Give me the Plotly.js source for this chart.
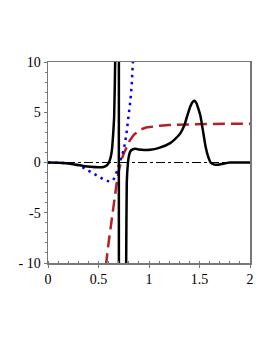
<!DOCTYPE html>
<html><head><meta charset="utf-8">
<script src="https://cdn.plot.ly/plotly-3.0.1.min.js"></script>
<style>html,body{margin:0;padding:0;background:#fff}</style>
</head><body><div id="c" style="width:273px;height:353px"></div>
<script>
// black solid curve
const blackX = [0, 0.1, 0.2, 0.28, 0.35, 0.42, 0.5, 0.55, 0.58, 0.6, 0.62, 0.633, 0.645, 0.655, 0.665, 0.68, 0.7, 0.715, 0.7199,
                0.7201, 0.73, 0.75, 0.765, 0.774, 0.78, 0.79, 0.8, 0.815, 0.83, 0.864, 0.9, 0.95, 1.01, 1.1, 1.21, 1.26, 1.31, 1.35, 1.377, 1.41, 1.435, 1.452, 1.47, 1.49, 1.51, 1.535, 1.56, 1.585, 1.61, 1.64, 1.68, 1.72, 1.8, 1.9, 2];
const blackY = [0, -0.02, -0.1, -0.23, -0.34, -0.43, -0.48, -0.45, -0.3, -0.06, 0.5, 1.26, 2.8, 4.6, 10, 20, 50, 200, 2000,
                -2000, -200, -40, -16, -10, -2, -0.2, 0.6, 1.1, 1.26, 1.36, 1.3, 1.25, 1.26, 1.45, 1.93, 2.35, 2.9, 3.7, 4.6, 5.6, 6.05, 6.15, 5.9, 5.3, 4.6, 3.1, 1.6, 0.6, 0, -0.18, -0.23, -0.15, 0, 0, 0];
// blue dotted curve
const blueX = [0, 0.07, 0.15, 0.22, 0.28, 0.33, 0.38, 0.45, 0.516, 0.57, 0.615, 0.645, 0.665, 0.69, 0.72, 0.75, 0.775, 0.8, 0.815, 0.83, 0.84, 0.85];
const blueY = [0, 0, -0.05, -0.12, -0.22, -0.4, -0.7, -1.15, -1.5, -1.8, -1.9, -1.75, -1.4, -0.6, 0.3, 1.26, 2.7, 4.6, 6.1, 7.9, 10, 12];
// red dashed curve
const redX = [0.56, 0.576, 0.6, 0.632, 0.66, 0.68, 0.7, 0.72, 0.75, 0.78, 0.81, 0.85, 0.91, 0.97, 1.03, 1.11, 1.2, 1.31, 1.45, 1.6, 1.8, 1.97, 2];
const redY = [-12, -10, -8, -5.4, -3.4, -2.05, -0.9, 0.0, 0.9, 1.6, 2.2, 2.75, 3.25, 3.48, 3.58, 3.66, 3.73, 3.78, 3.82, 3.84, 3.85, 3.85, 3.85];
// reference line
const refX = [0, 2];
const refY = [0, 0];
const xTicks = [0, 0.5, 1, 1.5, 2];
const xTickText = ['0', '0.5', '1', '1.5', '2'];
const yTicks = [-10, -5, 0, 5, 10];
const yTickText = ['- 10', '-5', '0', '5', '10'];

const traces = [
  {x: refX, y: refY, mode: 'lines', line: {color: '#000', width: 1, dash: 'dashdot'}, hoverinfo: 'skip'},
  {x: redX, y: redY, mode: 'lines', line: {color: '#b22222', width: 2.5, dash: '12px,6px'}, hoverinfo: 'skip'},
  {x: blueX, y: blueY, mode: 'lines', line: {color: '#0000ff', width: 2.5, dash: '2.5px,4.5px'}, hoverinfo: 'skip'},
  {x: blackX, y: blackY, mode: 'lines', line: {color: '#000', width: 2.5, shape: 'spline', smoothing: 0.6}, hoverinfo: 'skip'}
];
const font = {family: 'Liberation Serif, Times New Roman, serif', size: 14, color: '#000'};
const layout = {
  width: 273, height: 353,
  margin: {l: 48, r: 23, t: 62, b: 90},
  paper_bgcolor: '#fff', plot_bgcolor: '#fff',
  showlegend: false,
  font: font,
  xaxis: {range: [0, 2], tickvals: xTicks, ticktext: xTickText, showgrid: false, zeroline: false,
          showline: true, linecolor: '#777', linewidth: 1.5, mirror: true,
          ticks: 'outside', ticklen: 3, tickcolor: '#777', tickfont: font,
          minor: {dtick: 0.1, ticks: 'inside', ticklen: 2, tickcolor: '#777', showgrid: false}},
  yaxis: {range: [-10, 10], tickvals: yTicks, ticktext: yTickText, showgrid: false, zeroline: false,
          showline: true, linecolor: '#777', linewidth: 1.5, mirror: true,
          ticks: 'outside', ticklen: 3, tickcolor: '#777', tickfont: font,
          minor: {dtick: 1, ticks: 'outside', ticklen: 2, tickcolor: '#777', showgrid: false}}
};
Plotly.newPlot('c', traces, layout, {staticPlot: true});
</script></body></html>
